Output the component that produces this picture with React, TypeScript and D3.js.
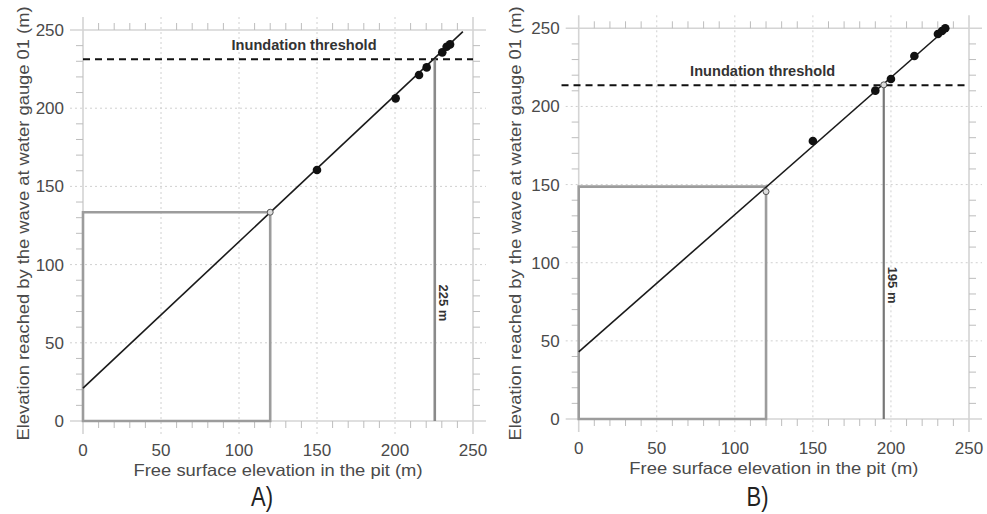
import React from 'react';
import * as d3 from 'd3';

// valori
const ticks = [0, 50, 100, 150, 200, 250];
const minorTicks = d3.range(10, 250, 10).filter((v) => v % 50 !== 0);

const pointsA = [
    [150, 160.5], [200.4, 206.3], [215.4, 221.2], [220.3, 226.1],
    [230.3, 235.7], [233.1, 239.3], [235.3, 240.8],
];
const pointsB = [
    [150, 177.9], [190, 210.1], [200, 217.6], [215, 232.3],
    [230.1, 246.4], [232.7, 248.3], [234.8, 250],
];
const openA = [[120, 133.5]];
const openB = [[120, 145.5], [195.4, 213.8]];

const fitA = [[0, 21], [243.5, 249]];
const fitB = [[0, 43], [237, 251]];

const boxA = [120, 133.5];
const boxB = [120, 148.7];

const thresholdA = 231.3;
const thresholdB = 213.5;
const thrSpanA = [0, 250];
const thrSpanB = [-11, 250];

const markerA = 225.5;
const markerB = 195.4;
const markerLabelA = '225 m';
const markerLabelB = '195 m';

const panels = [
    {
        name: 'A)', xr: [83, 473], yr: [421, 30], points: pointsA, open: openA, fit: fitA, box: boxA,
        thr: thresholdA, thrSpan: thrSpanA, thrLabelX: 141.7, marker: markerA, markerLabel: markerLabelA,
        markerLabelY: 75.5, markerColor: '#8a8a8a', markerWidth: 2.6, yTitleX: 23, panelLabelX: 262,
    },
    {
        name: 'B)', xr: [578.7, 969], yr: [419, 28.3], points: pointsB, open: openB, fit: fitB, box: boxB,
        thr: thresholdB, thrSpan: thrSpanB, thrLabelX: 117.8, marker: markerB, markerLabel: markerLabelB,
        markerLabelY: 85.7, markerColor: '#777', markerWidth: 2.2, yTitleX: 515, panelLabelX: 757.5,
    },
];

const font = '"Liberation Sans", Arial, Helvetica, sans-serif';
const textGray = '#4a4a4a';

const Panel = ({ p }) => {
    const x = d3.scaleLinear().domain([0, 250]).range(p.xr);
    const y = d3.scaleLinear().domain([0, 250]).range(p.yr);
    const line = d3.line().x((d) => x(d[0])).y((d) => y(d[1]));
    const ext = 13;
    const cx = (p.xr[0] + p.xr[1]) / 2;

    return (
        <g fontFamily={font}>
            {/* griglia */}
            {ticks.map((t) => {
                const edge = t === 0 || t === 250;
                return (
                    <g key={'g' + t}>
                        <line x1={x(t)} x2={x(t)} y1={y(250) - ext} y2={y(0) + ext}
                            stroke={edge ? '#d4d4d4' : '#d0d0d0'} strokeWidth={edge ? 1.6 : 1}
                            strokeDasharray={edge ? null : '2,3'} />
                        <line x1={x(0) - ext} x2={x(250) + ext} y1={y(t)} y2={y(t)}
                            stroke={edge ? '#d4d4d4' : '#d0d0d0'} strokeWidth={edge ? 1.6 : 1}
                            strokeDasharray={edge ? null : '2,3'} />
                    </g>
                );
            })}
            {minorTicks.map((t) => (
                <g key={'m' + t} stroke="#bdbdbd" strokeWidth={1}>
                    <line x1={x(t)} x2={x(t)} y1={y(250) - 7} y2={y(250)} />
                    <line x1={x(t)} x2={x(t)} y1={y(0)} y2={y(0) + 7} />
                    <line x1={x(0) - 7} x2={x(0)} y1={y(t)} y2={y(t)} />
                    <line x1={x(250)} x2={x(250) + 7} y1={y(t)} y2={y(t)} />
                </g>
            ))}

            {/* etichette assi */}
            {ticks.map((t) => (
                <g key={'l' + t} fill={textGray} fontSize={17}>
                    <text x={x(t)} y={y(0) + 35} textAnchor="middle">{t}</text>
                    <text x={x(0) - 19} y={y(t) + 6} textAnchor="end">{t}</text>
                </g>
            ))}
            <text x={cx} y={y(0) + 55} textAnchor="middle" fontSize={16.5} fill={textGray}
                textLength={289} lengthAdjust="spacingAndGlyphs">
                Free surface elevation in the pit (m)
            </text>
            <text transform={`translate(${p.yTitleX + 6},${223.5}) rotate(-90)`} textAnchor="middle"
                fontSize={17} fill={textGray} textLength={434} lengthAdjust="spacingAndGlyphs">
                Elevation reached by the wave at water gauge 01 (m)
            </text>
            <text x={p.panelLabelX} y={506} textAnchor="middle" fontSize={27} fill="#222"
                textLength={22} lengthAdjust="spacingAndGlyphs">
                {p.name}
            </text>

            {/* riquadro grigio */}
            <path d={`M${x(0)},${y(0)}H${x(p.box[0])}V${y(p.box[1])}H${x(0)}Z`}
                fill="none" stroke="#9c9c9c" strokeWidth={2.6} />

            {/* soglia */}
            <line x1={x(p.thrSpan[0])} x2={x(p.thrSpan[1])} y1={y(p.thr)} y2={y(p.thr)}
                stroke="#111" strokeWidth={2} strokeDasharray="7,5" />
            <text x={x(p.thrLabelX)} y={y(p.thr) - 9} textAnchor="middle" fontSize={15}
                fontWeight="bold" fill="#333" textLength={145} lengthAdjust="spacingAndGlyphs">
                Inundation threshold
            </text>

            {/* marcatore verticale */}
            <line x1={x(p.marker)} x2={x(p.marker)} y1={y(0)} y2={y(p.thr)}
                stroke={p.markerColor} strokeWidth={p.markerWidth} />
            <text transform={`translate(${x(p.marker) + 4},${y(p.markerLabelY)}) rotate(90)`}
                textAnchor="middle" fontSize={13} fontWeight="bold" fill="#333">
                {p.markerLabel}
            </text>

            {/* retta */}
            <path d={line(p.fit)} fill="none" stroke="#1a1a1a" strokeWidth={1.6} />

            {/* punti */}
            {p.points.map((d, i) => (
                <circle key={'p' + i} cx={x(d[0])} cy={y(d[1])} r={4.3} fill="#111" />
            ))}
            {p.open.map((d, i) => (
                <circle key={'o' + i} cx={x(d[0])} cy={y(d[1])} r={3} fill="#ddd"
                    stroke="#555" strokeWidth={1} />
            ))}
        </g>
    );
};

const App = () => (
    <svg width={987} height={514} style={{ position: 'absolute', left: 0, top: 0, background: '#fff' }}>
        <rect width={987} height={514} fill="#fff" />
        {panels.map((p) => (
            <Panel key={p.name} p={p} />
        ))}
    </svg>
);

export default App;
